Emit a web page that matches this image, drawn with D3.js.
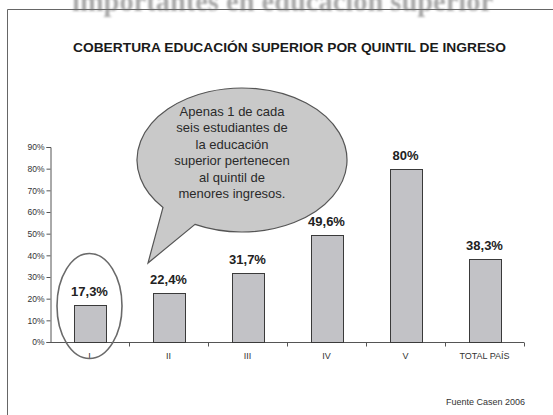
<!DOCTYPE html>
<html>
<head>
<meta charset="utf-8">
<script src="https://cdn.jsdelivr.net/npm/d3@7/dist/d3.min.js"></script>
<style>
  html, body { margin: 0; padding: 0; background: #fff; }
  svg { display: block; }
</style>
</head>
<body>
<svg id="chart" width="553" height="415"></svg>
<script>
// Cobertura educación superior por quintil de ingreso (Casen 2006)
const categories = ["I", "II", "III", "IV", "V", "TOTAL PAÍS"];
const values = [17.3, 22.4, 31.7, 49.6, 80, 38.3];
const valueLabels = ["17,3%", "22,4%", "31,7%", "49,6%", "80%", "38,3%"];
const yTicks = [0, 10, 20, 30, 40, 50, 60, 70, 80, 90];
const calloutLines = [
  "Apenas 1 de cada",
  "seis estudiantes de",
  "la educación",
  "superior pertenecen",
  "al quintil de",
  "menores ingresos."
];

const svg = d3.select("#chart");
const font = "Liberation Sans, Arial, sans-serif";

// Page heading, partly cut off by the top edge
const defs = svg.append("defs");
const blur = defs.append("filter").attr("id", "soft").attr("x", "-5%").attr("y", "-20%").attr("width", "110%").attr("height", "140%");
blur.append("feGaussianBlur").attr("stdDeviation", 0.9);

svg.append("text")
  .attr("x", 72).attr("y", 11)
  .attr("textLength", 421).attr("lengthAdjust", "spacingAndGlyphs")
  .attr("font-family", "Liberation Serif, Times New Roman, serif")
  .attr("font-weight", "bold").attr("font-size", 30)
  .attr("fill", "#a8a8a8").attr("filter", "url(#soft)")
  .text("importantes en educación superior");

// Frame
svg.append("path")
  .attr("d", "M7.5,415 V9.5 H553")
  .attr("fill", "none").attr("stroke", "#666").attr("stroke-width", 1);

// Title
svg.append("text")
  .attr("x", 289.5).attr("y", 51.5)
  .attr("text-anchor", "middle")
  .attr("textLength", 433).attr("lengthAdjust", "spacingAndGlyphs")
  .attr("font-family", font).attr("font-weight", "bold").attr("font-size", 12.5)
  .attr("fill", "#1a1a1a")
  .text("COBERTURA EDUCACIÓN SUPERIOR POR QUINTIL DE INGRESO");

// Scales
const x = d3.scaleBand().domain(categories).range([50, 524]).paddingInner(0.6).paddingOuter(0.3);
const xb = d3.scaleBand().domain(categories).range([50, 524]);
const y = d3.scaleLinear().domain([0, 90]).range([342, 147]);

// Y axis
const yAxis = d3.axisLeft(y).tickValues(yTicks).tickSize(4).tickPadding(2)
  .tickFormat(d => d + "%");
const gy = svg.append("g").attr("transform", "translate(50.5,0)").call(yAxis);
gy.selectAll("path, line").attr("stroke", "#555");
gy.selectAll("text").attr("font-family", font).attr("font-size", 8.5).attr("fill", "#333");

// X axis with ticks at category boundaries
const gx = svg.append("g").attr("transform", "translate(0,342.5)");
gx.append("line").attr("x1", 50).attr("x2", 524).attr("stroke", "#555");
gx.selectAll("line.tk")
  .data(categories.slice(1).map(c => xb(c)).concat([524]))
  .join("line").attr("class", "tk")
  .attr("x1", d => Math.round(d) + 0.5).attr("x2", d => Math.round(d) + 0.5)
  .attr("y1", 0).attr("y2", 4).attr("stroke", "#555");
gx.selectAll("text")
  .data(categories)
  .join("text")
  .attr("x", d => xb(d) + xb.bandwidth() / 2)
  .attr("y", 16)
  .attr("text-anchor", "middle")
  .attr("font-family", font).attr("font-size", 9).attr("fill", "#333")
  .text(d => d);

// Bars
svg.selectAll("rect.bar")
  .data(categories)
  .join("rect").attr("class", "bar")
  .attr("x", d => Math.round(x(d)) + 0.5)
  .attr("y", (d, i) => Math.round(y(values[i])) + 0.5)
  .attr("width", Math.round(x.bandwidth()))
  .attr("height", (d, i) => Math.round(y(0)) - Math.round(y(values[i])))
  .attr("fill", "#c2c2c6").attr("stroke", "#3a3a3a").attr("stroke-width", 1);

// Value labels
svg.selectAll("text.val")
  .data(categories)
  .join("text").attr("class", "val")
  .attr("x", d => x(d) + x.bandwidth() / 2)
  .attr("y", (d, i) => y(values[i]) - 9)
  .attr("text-anchor", "middle")
  .attr("font-family", font).attr("font-weight", "bold").attr("font-size", 13)
  .attr("fill", "#222")
  .text((d, i) => valueLabels[i]);

// Highlight ring around the first quintile
svg.append("ellipse")
  .attr("cx", x("I") + x.bandwidth() / 2).attr("cy", 306)
  .attr("rx", 32.5).attr("ry", 52.5)
  .attr("fill", "none").attr("stroke", "#6a6a6a").attr("stroke-width", 1.6);

// Speech bubble: one outline made of the ellipse and a tail pointing at bar II
const bcx = 242, bcy = 160, brx = 105, bry = 72;
const tip = [148, 263];
const onLower = px => [px, bcy + bry * Math.sqrt(1 - Math.pow((px - bcx) / brx, 2))];
const pA = onLower(163), pB = onLower(195);
const bubblePath = `M${pA[0]},${pA[1]} L${tip[0]},${tip[1]} L${pB[0]},${pB[1]} ` +
  `A${brx},${bry} 0 1 0 ${pA[0]},${pA[1]} Z`;
const bubble = svg.append("g");
bubble.append("path")
  .attr("d", bubblePath)
  .attr("fill", "#c9c9c9").attr("stroke", "#555").attr("stroke-width", 1.2)
  .attr("stroke-linejoin", "miter");
bubble.selectAll("text")
  .data(calloutLines)
  .join("text")
  .attr("x", 232)
  .attr("y", (d, i) => 115.5 + i * 16.5)
  .attr("text-anchor", "middle")
  .attr("font-family", font).attr("font-size", 13).attr("fill", "#2a2a2a")
  .text(d => d);

// Source note
svg.append("text")
  .attr("x", 525).attr("y", 405)
  .attr("text-anchor", "end")
  .attr("font-family", font).attr("font-size", 9).attr("fill", "#333")
  .text("Fuente Casen 2006");
</script>
</body>
</html>
